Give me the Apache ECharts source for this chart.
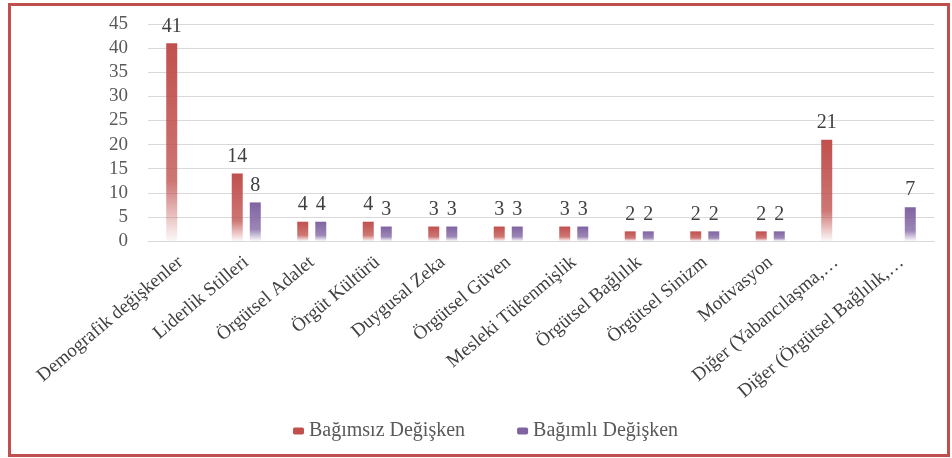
<!DOCTYPE html>
<html>
<head>
<meta charset="utf-8">
<script src="https://cdn.jsdelivr.net/npm/echarts@6/dist/echarts.min.js"></script>
<style>
  body { margin: 0; background: #fff; }
  #wrap { position: relative; width: 952px; height: 458px; }
  #frame {
    position: absolute; left: 8px; top: 3px; width: 936px; height: 448px;
    border: 3px solid #c0504d; box-sizing: content-box;
  }
  #main { position: absolute; left: 0; top: 0; width: 952px; height: 458px; }
</style>
</head>
<body>
<div id="wrap">
  <div id="frame"></div>
  <div id="main"></div>
</div>
<script>
// kategoriler
var categories = [
  'Demografik değişkenler', 'Liderlik Stilleri', 'Örgütsel Adalet', 'Örgüt Kültürü',
  'Duygusal Zeka', 'Örgütsel Güven', 'Mesleki Tükenmişlik', 'Örgütsel Bağlılık',
  'Örgütsel Sinizm', 'Motivasyon', 'Diğer (Yabancılaşma,…', 'Diğer (Örgütsel Bağlılık,…'
];
var bagimsiz = [41, 14, 4, 4, 3, 3, 3, 2, 2, 2, 21, null];
var bagimli = [null, 8, 4, 3, 3, 3, 3, 2, 2, 2, null, 7];
var seriesNames = ['Bağımsız Değişken', 'Bağımlı Değişken'];

var font = '"Liberation Serif", "Times New Roman", serif';

function fade(r, g, b) {
  return new echarts.graphic.LinearGradient(0, 0, 0, 1, [
    { offset: 0, color: 'rgba(' + r + ',' + g + ',' + b + ',1)' },
    { offset: 0.7, color: 'rgba(' + r + ',' + g + ',' + b + ',0.78)' },
    { offset: 1, color: 'rgba(' + r + ',' + g + ',' + b + ',0.04)' }
  ]);
}

var myChart = echarts.init(document.getElementById('main'));

var option = {
  animation: false,
  textStyle: { fontFamily: font },
  grid: { left: 148, right: 18, top: 24, bottom: 217 },
  legend: {
    bottom: 12,
    left: 288,
    itemWidth: 11,
    itemHeight: 7,
    itemGap: 52,
    textStyle: { fontFamily: font, fontSize: 20, color: '#595959' },
    data: [
      { name: seriesNames[0], itemStyle: { color: '#c0504d' } },
      { name: seriesNames[1], itemStyle: { color: '#8064a2' } }
    ]
  },
  xAxis: {
    type: 'category',
    data: categories,
    axisTick: { show: false },
    axisLine: { lineStyle: { color: '#d9d9d9' } },
    axisLabel: {
      interval: 0,
      rotate: 40,
      margin: 19,
      fontFamily: font,
      fontSize: 19,
      color: '#404040'
    }
  },
  yAxis: {
    type: 'value',
    min: 0,
    max: 45,
    interval: 5,
    axisLine: { show: false },
    axisTick: { show: false },
    splitLine: { lineStyle: { color: '#d9d9d9' } },
    axisLabel: { fontFamily: font, fontSize: 19, color: '#595959', margin: 20 }
  },
  series: [
    {
      name: seriesNames[0],
      type: 'bar',
      data: bagimsiz,
      barWidth: 11,
      barGap: '64%',
      itemStyle: { color: fade(192, 80, 77) },
      label: { show: true, position: 'top', distance: 7, fontFamily: font, fontSize: 20, color: '#404040' }
    },
    {
      name: seriesNames[1],
      type: 'bar',
      data: bagimli,
      barWidth: 11,
      itemStyle: { color: fade(128, 100, 162) },
      label: { show: true, position: 'top', distance: 7, fontFamily: font, fontSize: 20, color: '#404040' }
    }
  ]
};

myChart.setOption(option);
</script>
</body>
</html>
